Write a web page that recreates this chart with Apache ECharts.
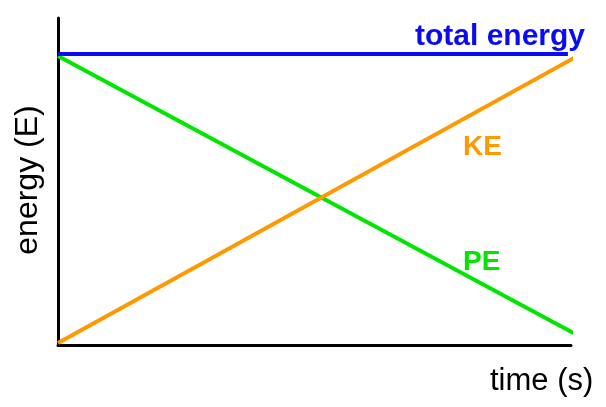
<!DOCTYPE html>
<html>
<head>
<meta charset="utf-8">
<script src="https://cdn.jsdelivr.net/npm/echarts@6/dist/echarts.min.js"></script>
<style>html,body{margin:0;padding:0;background:#fff;}#c{width:606px;height:407px;}</style>
</head>
<body>
<div id="c"></div>
<script>
var timeValues = [0, 100];
var totalEnergy = [[0, 89], [99.4, 89]];
var kineticEnergy = [[0, 0.6], [100.6, 87.8]];
var potentialEnergy = [[0, 88.4], [100.8, 3.4]];
var labels = { total: 'total energy', ke: 'KE', pe: 'PE', x: 'time (s)', y: 'energy (E)' };

var BLUE = '#0a0af5', ORANGE = '#ff9900', GREEN = '#00e600';
var FONT = '"Liberation Sans", Arial, sans-serif';

var chart = echarts.init(document.getElementById('c'), null, { renderer: 'canvas' });
chart.setOption({
  animation: false,
  backgroundColor: '#fff',
  grid: { left: 58, top: 18, right: 35, bottom: 62, containLabel: false },
  xAxis: {
    type: 'value', min: timeValues[0], max: timeValues[1],
    axisLine: { show: true, lineStyle: { color: '#000', width: 3 } },
    axisTick: { show: false }, axisLabel: { show: false }, splitLine: { show: false }
  },
  yAxis: {
    type: 'value', min: 0, max: 100,
    axisLine: { show: true, lineStyle: { color: '#000', width: 3 } },
    axisTick: { show: false }, axisLabel: { show: false }, splitLine: { show: false }
  },
  series: [
    { type: 'line', data: potentialEnergy, symbol: 'none', clip: false, lineStyle: { color: GREEN, width: 4 } },
    { type: 'line', data: kineticEnergy, symbol: 'none', clip: false, lineStyle: { color: ORANGE, width: 4 } },
    { type: 'line', data: totalEnergy, symbol: 'none', clip: false, lineStyle: { color: BLUE, width: 4 } }
  ],
  graphic: [
    { type: 'text', left: 415, top: 22, style: { text: labels.total, fill: BLUE, font: 'bold 30px ' + FONT } },
    { type: 'text', left: 463, top: 133, style: { text: labels.ke, fill: ORANGE, font: 'bold 28px ' + FONT } },
    { type: 'text', left: 463, top: 248, style: { text: labels.pe, fill: GREEN, font: 'bold 28px ' + FONT } },
    { type: 'text', left: 490, top: 366, style: { text: labels.x, fill: '#000', font: '31px ' + FONT } },
    { type: 'text', x: 28, y: 180, rotation: Math.PI / 2,
      style: { text: labels.y, fill: '#000', font: '32px ' + FONT, align: 'center', verticalAlign: 'middle' } }
  ]
});
</script>
</body>
</html>
